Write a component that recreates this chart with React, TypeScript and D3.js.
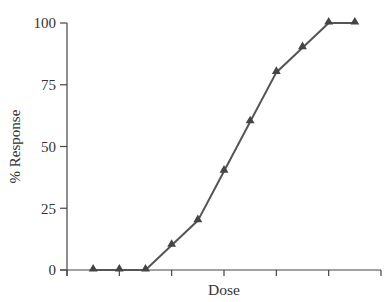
import React from "react";
import * as d3 from "d3";

const doses = [1, 2, 3, 4, 5, 6, 7, 8, 9, 10, 11];
const responses = [0, 0, 0, 10, 20, 40, 60, 80, 90, 100, 100];
const yTicks = [0, 25, 50, 75, 100];
const xTicks = [0, 2, 4, 6, 8, 10, 12];

export default function App() {
  const W = 388, H = 302;
  const x = d3.scaleLinear().domain([0, 12]).range([67, 381]);
  const y = d3.scaleLinear().domain([0, 100]).range([270, 23]);
  const line = d3.line<number>().x((_, i) => x(doses[i])).y((d) => y(d));
  const tri = d3.symbol().type(d3.symbolTriangle).size(34)();
  const axisColor = "#444";
  const font = "'Liberation Serif', 'DejaVu Serif', serif";
  return (
    <svg width={W} height={H} style={{ position: "absolute", left: 0, top: 0, background: "#fff" }}>
      {/* y axis */}
      <line x1={x(0)} x2={x(0)} y1={y(100)} y2={276} stroke={axisColor} strokeWidth={1.2} />
      {yTicks.map((t) => (
        <g key={t}>
          <line x1={x(0) - 7} x2={x(0)} y1={y(t)} y2={y(t)} stroke={axisColor} strokeWidth={1.2} />
          <text x={x(0) - 11} y={y(t)} dy="0.35em" textAnchor="end" fontFamily={font} fontSize={15} fill="#333">{t}</text>
        </g>
      ))}
      {/* x axis */}
      <line x1={x(0) - 7} x2={x(12)} y1={y(0)} y2={y(0)} stroke={axisColor} strokeWidth={1.2} />
      {xTicks.map((t) => (
        <line key={t} x1={x(t)} x2={x(t)} y1={y(0)} y2={y(0) + 6} stroke={axisColor} strokeWidth={1.2} />
      ))}
      <text x={x(6)} y={295} textAnchor="middle" fontFamily={font} fontSize={15.5} fill="#333">Dose</text>
      <text transform={`translate(20,${y(50)}) rotate(-90)`} textAnchor="middle" fontFamily={font} fontSize={15} fill="#333">% Response</text>
      <path d={line(responses) || ""} fill="none" stroke="#555" strokeWidth={2} />
      {responses.map((r, i) => (
        <path key={i} d={tri || ""} transform={`translate(${x(doses[i])},${y(r) - 1})`} fill="#444" />
      ))}
    </svg>
  );
}
